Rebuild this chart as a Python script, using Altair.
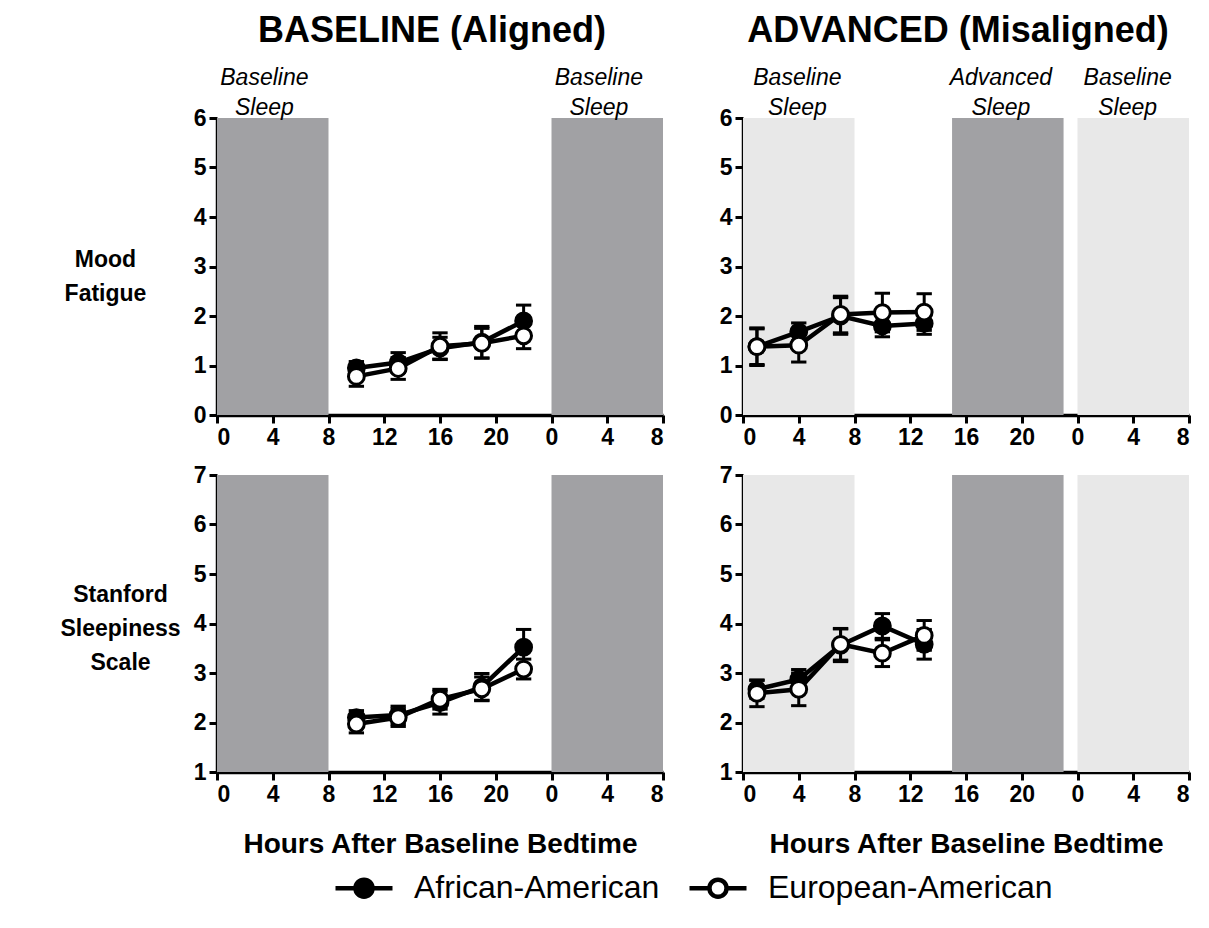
import altair as alt
import pandas as pd

# ---------------- data ----------------
GROUPS = ["African-American", "European-American"]
HOURS_BASELINE = [10, 13, 16, 19, 22]
HOURS_ADVANCED = [1, 4, 7, 10, 13]
X_TICKS = [0, 4, 8, 12, 16, 20, 24, 28, 32]

# Mood Fatigue, baseline (aligned)
MOOD_BASE_AA = [0.95, 1.06, 1.35, 1.47, 1.90]
MOOD_BASE_AA_SEM = [0.13, 0.20, 0.22, 0.32, 0.32]
MOOD_BASE_EA = [0.78, 0.94, 1.39, 1.45, 1.60]
MOOD_BASE_EA_SEM = [0.20, 0.22, 0.27, 0.30, 0.26]

# Mood Fatigue, advanced (misaligned)
MOOD_ADV_AA = [1.38, 1.68, 2.00, 1.80, 1.85]
MOOD_ADV_AA_SEM = [0.36, 0.18, 0.37, 0.22, 0.22]
MOOD_ADV_EA = [1.38, 1.41, 2.03, 2.07, 2.08]
MOOD_ADV_EA_SEM = [0.38, 0.34, 0.37, 0.39, 0.37]

# Stanford Sleepiness Scale, baseline (aligned)
SSS_BASE_AA = [2.10, 2.15, 2.40, 2.72, 3.52]
SSS_BASE_AA_SEM = [0.14, 0.18, 0.23, 0.27, 0.36]
SSS_BASE_EA = [1.97, 2.10, 2.47, 2.68, 3.08]
SSS_BASE_EA_SEM = [0.18, 0.18, 0.20, 0.24, 0.20]

# Stanford Sleepiness Scale, advanced (misaligned)
SSS_ADV_AA = [2.67, 2.87, 3.56, 3.95, 3.58]
SSS_ADV_AA_SEM = [0.18, 0.20, 0.33, 0.25, 0.30]
SSS_ADV_EA = [2.59, 2.67, 3.58, 3.40, 3.76]
SSS_ADV_EA_SEM = [0.27, 0.33, 0.32, 0.27, 0.30]

# sleep episodes (hours after baseline bedtime)
BASE_SHADE_START = [0, 24]
BASE_SHADE_END = [8, 32]
BASE_SHADE_KIND = ["dark", "dark"]
ADV_SHADE_START = [0, 15, 24]
ADV_SHADE_END = [8, 23, 32]
ADV_SHADE_KIND = ["light", "dark", "light"]

BASE_NOTES = ["Baseline\nSleep", "Baseline\nSleep"]
BASE_NOTE_HOUR = [3.4, 27.4]
ADV_NOTES = ["Baseline\nSleep", "Advanced\nSleep", "Baseline\nSleep"]
ADV_NOTE_HOUR = [3.9, 18.5, 27.6]

COL_TITLES = ["BASELINE (Aligned)", "ADVANCED (Misaligned)"]
ROW_LABELS = [["Mood", "Fatigue"], ["Stanford", "Sleepiness", "Scale"]]
X_TITLE = "Hours After Baseline Bedtime"

# ---------------- style ----------------
FONT = "Liberation Sans"
W, H = 446, 297
DARK, LIGHT = "#a1a1a4", "#e8e8e8"
LEGEND_PATH = ("M-1,0L-0.3,0M0.3,0L1,0"
               "M-0.3,0A0.3,0.3,0,1,0,0.3,0A0.3,0.3,0,1,0,-0.3,0Z")


def panel(hours, aa, aa_sem, ea, ea_sem, shade_start, shade_end, shade_kind,
          notes, note_hour, ydom, title=None, row_label=None, row_x=-100,
          row_y=140, xtitle=None):
    df = pd.DataFrame({
        "hour": hours + hours,
        "value": aa + ea,
        "sem": aa_sem + ea_sem,
        "group": [GROUPS[0]] * len(hours) + [GROUPS[1]] * len(hours),
    })
    df["lo"] = df["value"] - df["sem"]
    df["hi"] = df["value"] + df["sem"]
    df["cl"] = df["hour"] - 0.55
    df["cr"] = df["hour"] + 0.55

    shades = pd.DataFrame({"start": shade_start, "end": shade_end,
                           "kind": shade_kind})
    shades["ylo"] = ydom[0]
    shades["yhi"] = ydom[1]

    xs = alt.Scale(domain=[0, 32], nice=False, zero=False)
    ys = alt.Scale(domain=ydom, nice=False, zero=False)
    xaxis = alt.Axis(values=X_TICKS,
                     labelExpr="datum.value >= 24 ? datum.value - 24 : datum.value",
                     title=xtitle if xtitle else None, titlePadding=24,
                     titleFontSize=28, titleFontWeight="bold")
    yaxis = alt.Axis(values=list(range(ydom[0], ydom[1] + 1)),
                     title=row_label if row_label else None,
                     titleAngle=0, titleAlign="center", titleBaseline="middle",
                     titleX=row_x, titleY=row_y,
                     titleFontSize=23, titleFontWeight="bold", titleLineHeight=34)

    def X(field):
        return alt.X(field, type="quantitative", scale=xs, axis=xaxis)

    def Y(field):
        return alt.Y(field, type="quantitative", scale=ys, axis=yaxis)

    shade = alt.Chart(shades).mark_rect().encode(
        x=X("start"), x2="end", y=Y("yhi"), y2="ylo",
        color=alt.Color("kind:N",
                        scale=alt.Scale(domain=["dark", "light"], range=[DARK, LIGHT]),
                        legend=None),
    )
    bars = alt.Chart(df).mark_rule(color="black", strokeWidth=3).encode(
        x=X("hour"), y=Y("lo"), y2="hi")
    cap_lo = alt.Chart(df).mark_rule(color="black", strokeWidth=3).encode(
        x=X("cl"), x2="cr", y=Y("lo"))
    cap_hi = alt.Chart(df).mark_rule(color="black", strokeWidth=3).encode(
        x=X("cl"), x2="cr", y=Y("hi"))
    line = alt.Chart(df).mark_line(color="black", strokeWidth=4.5).encode(
        x=X("hour"), y=Y("value"), detail="group:N")
    pts = alt.Chart(df).mark_point(shape="circle", filled=True, size=250,
                                   stroke="black", strokeWidth=3,
                                   opacity=1, fillOpacity=1).encode(
        x=X("hour"), y=Y("value"),
        fill=alt.Fill("group:N",
                      scale=alt.Scale(domain=GROUPS, range=["black", "white"]),
                      legend=alt.Legend(
                          orient="none", legendX=116, legendY=739,
                          direction="horizontal", title=None,
                          symbolType=LEGEND_PATH, symbolSize=3249,
                          symbolStrokeColor="black", symbolStrokeWidth=4.5,
                          labelFontSize=32, labelFont=FONT, labelColor="black",
                          labelLimit=0, labelOffset=19, columnPadding=20)),
    )
    layers = [shade, bars, cap_lo, cap_hi, line, pts]
    if notes:
        nd = pd.DataFrame({"hour": note_hour, "note": notes})
        nd["ytop"] = ydom[1]
        txt = alt.Chart(nd).mark_text(lineBreak="\n", font=FONT, fontSize=23,
                                      fontStyle="italic", baseline="bottom",
                                      align="center", lineHeight=30, dy=-28,
                                      color="black").encode(
            x=X("hour"), y=Y("ytop"), text="note:N")
        layers.append(txt)
    ch = alt.layer(*layers).properties(width=W, height=H)
    if title:
        ch = ch.properties(title=alt.TitleParams(
            title, fontSize=36, fontWeight="bold", font=FONT, anchor="middle",
            color="black", offset=17, dx=-8))
    return ch


p1 = panel(HOURS_BASELINE, MOOD_BASE_AA, MOOD_BASE_AA_SEM, MOOD_BASE_EA,
           MOOD_BASE_EA_SEM, BASE_SHADE_START, BASE_SHADE_END, BASE_SHADE_KIND,
           BASE_NOTES, BASE_NOTE_HOUR, [0, 6], title=COL_TITLES[0],
           row_label=ROW_LABELS[0], row_x=-112, row_y=141)
p2 = panel(HOURS_ADVANCED, MOOD_ADV_AA, MOOD_ADV_AA_SEM, MOOD_ADV_EA,
           MOOD_ADV_EA_SEM, ADV_SHADE_START, ADV_SHADE_END, ADV_SHADE_KIND,
           ADV_NOTES, ADV_NOTE_HOUR, [0, 6], title=COL_TITLES[1])
p3 = panel(HOURS_BASELINE, SSS_BASE_AA, SSS_BASE_AA_SEM, SSS_BASE_EA,
           SSS_BASE_EA_SEM, BASE_SHADE_START, BASE_SHADE_END, BASE_SHADE_KIND,
           None, None, [1, 7], row_label=ROW_LABELS[1], row_x=-97, row_y=119,
           xtitle=X_TITLE)
p4 = panel(HOURS_ADVANCED, SSS_ADV_AA, SSS_ADV_AA_SEM, SSS_ADV_EA,
           SSS_ADV_EA_SEM, ADV_SHADE_START, ADV_SHADE_END, ADV_SHADE_KIND,
           None, None, [1, 7], xtitle=X_TITLE)

chart = alt.concat(p1, p2, p3, p4, columns=2, spacing={"row": 60, "column": 80},
                   bounds="flush").properties(
    padding={"left": 51, "top": 5, "right": 5, "bottom": 5}
).configure_view(stroke=None).configure_axis(
    labelFont=FONT, titleFont=FONT, labelFontSize=23, labelFontWeight="bold",
    labelColor="black", titleColor="black", domainColor="black", domainWidth=3.5,
    tickColor="black", tickWidth=3, tickSize=8, labelPadding=3, grid=False,
).configure_legend(labelFont=FONT)

chart.save("out.html", embed_options={"renderer": "svg", "actions": False})
